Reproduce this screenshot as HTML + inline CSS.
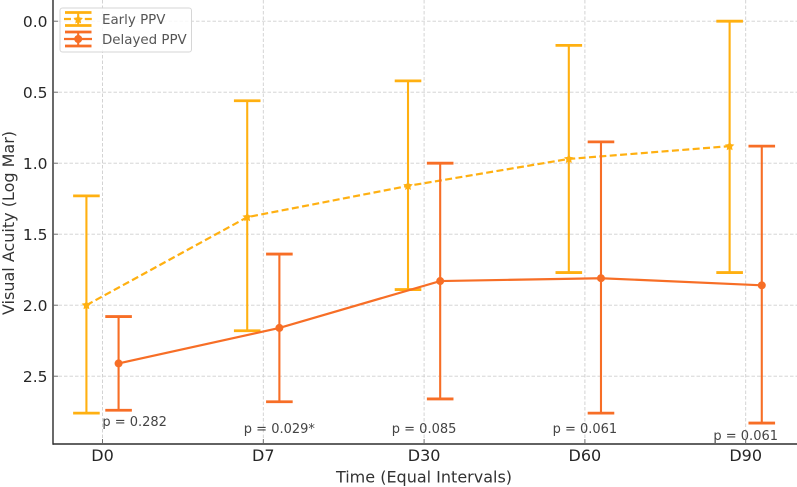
<!DOCTYPE html>
<html lang="en">
<head>
<meta charset="utf-8">
<title>Visual Acuity over Time</title>
<style>
html,body{margin:0;padding:0;background:#fff;width:797px;height:487px;overflow:hidden}
svg{display:block;filter:blur(0.35px)}
text{font-family:"DejaVu Sans","Liberation Sans",sans-serif}
</style>
</head>
<body>
<svg id="chart" xmlns="http://www.w3.org/2000/svg" width="797" height="487" viewBox="0 0 797 487"></svg>
<script>
const categories = ['D0', 'D7', 'D30', 'D60', 'D90'];
const yTickValues = [0, 0.5, 1, 1.5, 2, 2.5];
const yTickLabels = ['0.0', '0.5', '1.0', '1.5', '2.0', '2.5'];
const earlyMeans = [2.0, 1.38, 1.16, 0.97, 0.88];
const earlyUpper = [1.23, 0.56, 0.42, 0.17, 0.0];
const earlyLower = [2.76, 2.18, 1.89, 1.77, 1.77];
const delayedMeans = [2.41, 2.16, 1.83, 1.81, 1.86];
const delayedUpper = [2.08, 1.64, 1.0, 0.85, 0.88];
const delayedLower = [2.74, 2.68, 2.66, 2.76, 2.83];
const pLabels = ['p = 0.282', 'p = 0.029*', 'p = 0.085', 'p = 0.061', 'p = 0.061'];
const pCategoryPlace = [0.2, 1.1, 2, 3, 4];
const pValuePlace = [2.815, 2.865, 2.865, 2.865, 2.915];

const NS = 'http://www.w3.org/2000/svg';
const svg = document.getElementById('chart');
const EARLY = '#FFB011';
const DELAYED = '#F76E26';
const GRID = '#cfcfcf';
const plot = { left: 53, right: 797, top: 0, bottom: 444 };

function xScale(c) { return 102.5 + c * 160.8; }
function yScale(v) { return 21.2 + v * 142; }

function make(tag, attrs, parent) {
  const el = document.createElementNS(NS, tag);
  for (const k in attrs) el.setAttribute(k, attrs[k]);
  (parent || svg).appendChild(el);
  return el;
}
function group(parent) {
  return make('g', {}, parent);
}
function starPoints(cx, cy, r) {
  const pts = [];
  for (let i = 0; i < 10; i++) {
    const rad = i % 2 ? r * 0.5 : r;
    const a = -Math.PI / 2 + i * Math.PI / 5;
    pts.push((cx + rad * Math.cos(a)).toFixed(2) + ',' + (cy + rad * Math.sin(a)).toFixed(2));
  }
  return pts.join(' ');
}

// Gridlines
const gridGroup = group();


yTickValues.forEach(function (v) {
  const l = make('line', { x1: plot.left, x2: plot.right, y1: yScale(v), y2: yScale(v), stroke: GRID, 'stroke-width': 0.9, 'stroke-dasharray': '3.5 2' }, gridGroup);
  
  
});
categories.forEach(function (c, i) {
  const l = make('line', { x1: xScale(i), x2: xScale(i), y1: plot.top, y2: plot.bottom, stroke: GRID, 'stroke-width': 0.9, 'stroke-dasharray': '3.5 2' }, gridGroup);
  
  
});

// Series
function drawSeries(name, color, means, upper, lower, offset, dashed, isStar) {
  const g = group();
  
  
  const linePts = means.map(function (m, i) { return xScale(i + offset) + ',' + yScale(m); }).join(' ');
  const trend = make('polyline', { points: linePts, fill: 'none', stroke: color, 'stroke-width': 2.2 }, g);
  if (dashed) trend.setAttribute('stroke-dasharray', '7 3.4');
  
  
  means.forEach(function (m, i) {
    const x = xScale(i + offset);
    const bar = make('line', { x1: x, x2: x, y1: yScale(upper[i]), y2: yScale(lower[i]), stroke: color, 'stroke-width': 2.1 }, g);
    
    
    [upper[i], lower[i]].forEach(function (v) {
      const cap = make('line', { x1: x - 13.3, x2: x + 13.3, y1: yScale(v), y2: yScale(v), stroke: color, 'stroke-width': 2.8 }, g);
      
      
    });
    let mark;
    if (isStar) {
      mark = make('polygon', { points: starPoints(x, yScale(m), 5), fill: color }, g);
    } else {
      mark = make('circle', { cx: x, cy: yScale(m), r: 4, fill: color }, g);
    }
    
    
  });
}
drawSeries('early-ppv', EARLY, earlyMeans, earlyUpper, earlyLower, -0.1, true, true);
drawSeries('delayed-ppv', DELAYED, delayedMeans, delayedUpper, delayedLower, 0.1, false, false);

// P-value annotations
pLabels.forEach(function (p, i) {
  const t = make('text', { x: xScale(pCategoryPlace[i]), y: yScale(pValuePlace[i]) + 5, 'text-anchor': 'middle', 'font-size': 13, fill: '#444444' });
  t.textContent = p;
  
  
});

// Axes
const leftSpine = make('line', { x1: plot.left, x2: plot.left, y1: plot.top, y2: plot.bottom + 0.8, stroke: '#444444', 'stroke-width': 1.6 });


const bottomSpine = make('line', { x1: plot.left, x2: plot.right, y1: plot.bottom, y2: plot.bottom, stroke: '#2e2e2e', 'stroke-width': 1.6 });



yTickValues.forEach(function (v, i) {
  const tick = make('line', { x1: plot.left, x2: plot.left + 5, y1: yScale(v), y2: yScale(v), stroke: '#666666', 'stroke-width': 0.9 });
  
  
  const t = make('text', { x: 47.5, y: yScale(v) + 6, 'text-anchor': 'end', 'font-size': 15.5, fill: '#262626' });
  t.textContent = yTickLabels[i];
  
  
});
categories.forEach(function (c, i) {
  const tick = make('line', { x1: xScale(i), x2: xScale(i), y1: plot.bottom - 5, y2: plot.bottom, stroke: '#666666', 'stroke-width': 0.9 });
  
  
  const t = make('text', { x: xScale(i), y: 461, 'text-anchor': 'middle', 'font-size': 16, fill: '#262626' });
  t.textContent = c;
  
  
});

const xTitle = make('text', { x: 424, y: 482.5, 'text-anchor': 'middle', 'font-size': 16, fill: '#333333' });
xTitle.textContent = 'Time (Equal Intervals)';


const yTitle = make('text', { x: 0, y: 0, transform: 'translate(14,223) rotate(-90)', 'text-anchor': 'middle', 'font-size': 16, fill: '#333333' });
yTitle.textContent = 'Visual Acuity (Log Mar)';



// Legend
const legend = group();


const frame = make('rect', { x: 60, y: 8, width: 131.5, height: 44, rx: 2.5, fill: '#ffffff', 'fill-opacity': 0.85, stroke: '#d6d6d6', 'stroke-width': 1 }, legend);



function legendEntry(name, label, color, top, mid, bottom, dashed, isStar) {
  const g = group(legend);
  
  
  make('line', { x1: 65, x2: 91.5, y1: top, y2: top, stroke: color, 'stroke-width': 2.8 }, g);
  make('line', { x1: 65, x2: 91.5, y1: bottom, y2: bottom, stroke: color, 'stroke-width': 2.8 }, g);
  make('line', { x1: 78.2, x2: 78.2, y1: top, y2: bottom, stroke: color, 'stroke-width': 2.1 }, g);
  const l = make('line', { x1: 64, x2: 92, y1: mid, y2: mid, stroke: color, 'stroke-width': 2.2 }, g);
  if (dashed) l.setAttribute('stroke-dasharray', '7 3.4');
  if (isStar) {
    make('polygon', { points: starPoints(78.2, mid + 0.5, 5), fill: color }, g);
  } else {
    make('circle', { cx: 78.2, cy: mid, r: 4, fill: color }, g);
  }
  const t = make('text', { x: 102, y: mid + 5, 'font-size': 13.4, fill: '#555555' }, g);
  t.textContent = label;
  
  
}
legendEntry('legend-entry-early-ppv', 'Early PPV', EARLY, 12.5, 19, 25.5, true, true);
legendEntry('legend-entry-delayed-ppv', 'Delayed PPV', DELAYED, 32, 39, 46, false, false);
</script>
</body>
</html>
